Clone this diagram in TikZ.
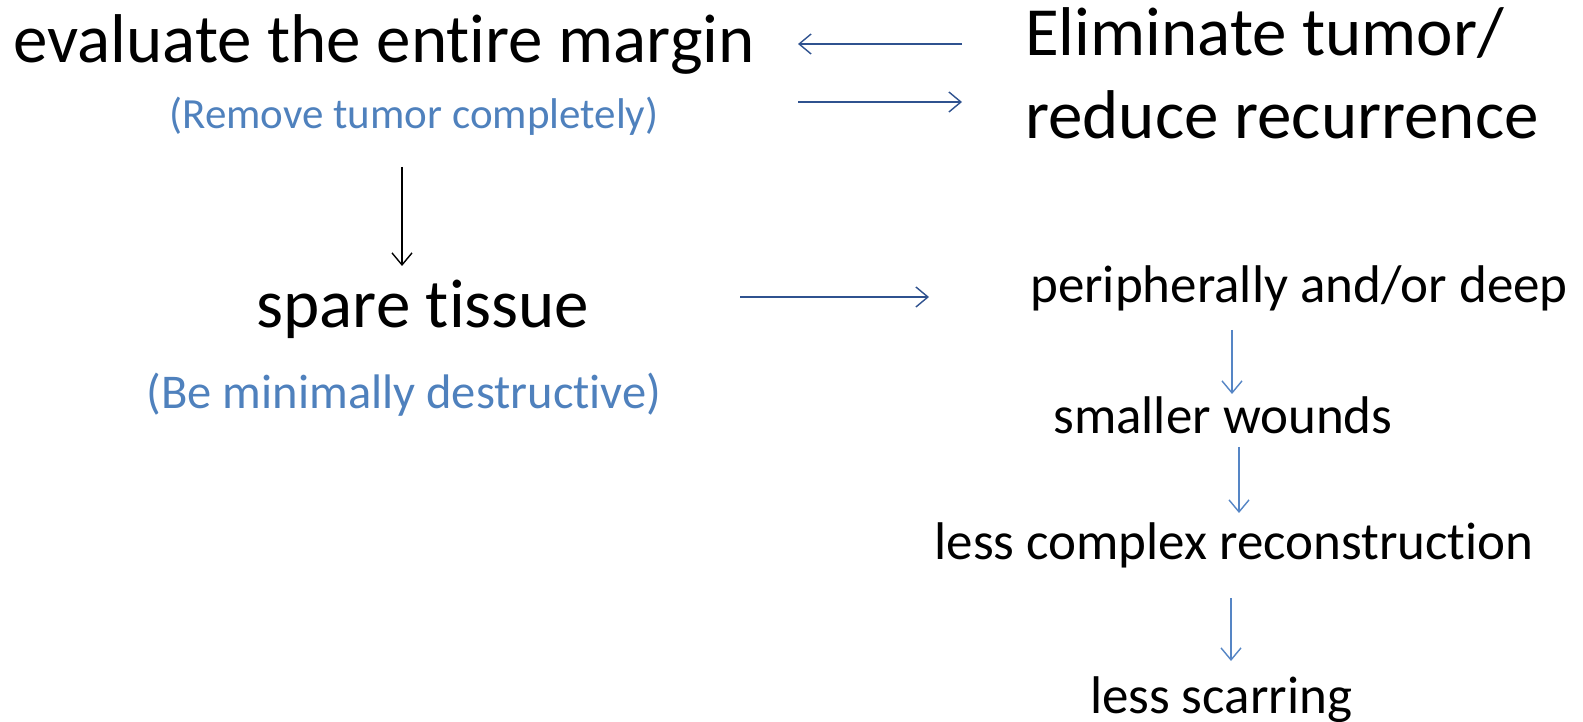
\documentclass[tikz,border=0pt]{standalone}
\usepackage{fontspec}
\setmainfont{Carlito}[Ligatures=NoCommon]
\usepackage[HTML]{xcolor}
\usetikzlibrary{positioning, arrows, arrows.meta}

\definecolor{darkblue}{HTML}{2F528F}
\definecolor{lightblue}{HTML}{5585C5}
\definecolor{notetext}{HTML}{4F81BD}

\tikzset{
  big/.style={inner sep=0pt, anchor=base, font=\fontsize{69}{69}\selectfont},
  mid/.style={inner sep=0pt, anchor=base, font=\fontsize{53}{53}\selectfont},
  note/.style={inner sep=0pt, anchor=base, text=notetext},
  tip/.style={-{Straight Barb[length=12pt,width=20pt]}, line width=1.4pt},
  darr/.style={tip, draw=darkblue},
  larr/.style={tip, draw=lightblue},
}

\begin{document}
\begin{tikzpicture}[x=1pt,y=1pt]
\useasboundingbox (0,0) rectangle (1583,721);

% left column
\node[big] (evaluate) at (384,658) {evaluate the entire margin};
\node[note, font=\fontsize{43}{43}\selectfont] (remove) at (414,592) {(Remove tumor completely)};
\node[big] (spare) at (423,393) {spare tissue};
\node[note, font=\fontsize{48.5}{48.5}\selectfont] (minimal) at (404,312) {(Be minimally destructive)};

% right column
\node[big, anchor=base west] (elim) at (1025,665) {Eliminate tumor/};
\node[big, anchor=base west] (reduce) at (1025,582) {reduce recurrence};
\node[mid] (periph) at (1299,418) {peripherally and/or deep};
\node[mid] (wounds) at (1223,287) {smaller wounds};
\node[mid] (recon) at (1234,161) {less complex reconstruction};
\node[mid] (scar) at (1221,8) {less scarring};

% arrows between the columns
\draw[tip] ([shift={(-12,-38)}]remove.base) -- ([shift={(-21,62)}]spare.base);
\draw[darr] ([shift={(-63,12)}]elim.base west) -- ([shift={(414,19)}]evaluate.base);
\draw[darr] ([shift={(384,27)}]remove.base) -- ([shift={(-63,37)}]reduce.base west);
\draw[darr] ([shift={(317,31)}]spare.base) -- ([shift={(-370,6)}]periph.base);

% chain of consequences
\draw[larr] ([shift={(-67,-27)}]periph.base) -- ([shift={(9,40)}]wounds.base);
\draw[larr] ([shift={(16,-13)}]wounds.base) -- ([shift={(5,47)}]recon.base);
\draw[larr] ([shift={(-3,-38)}]recon.base) -- ([shift={(10,52)}]scar.base);
\end{tikzpicture}
\end{document}
